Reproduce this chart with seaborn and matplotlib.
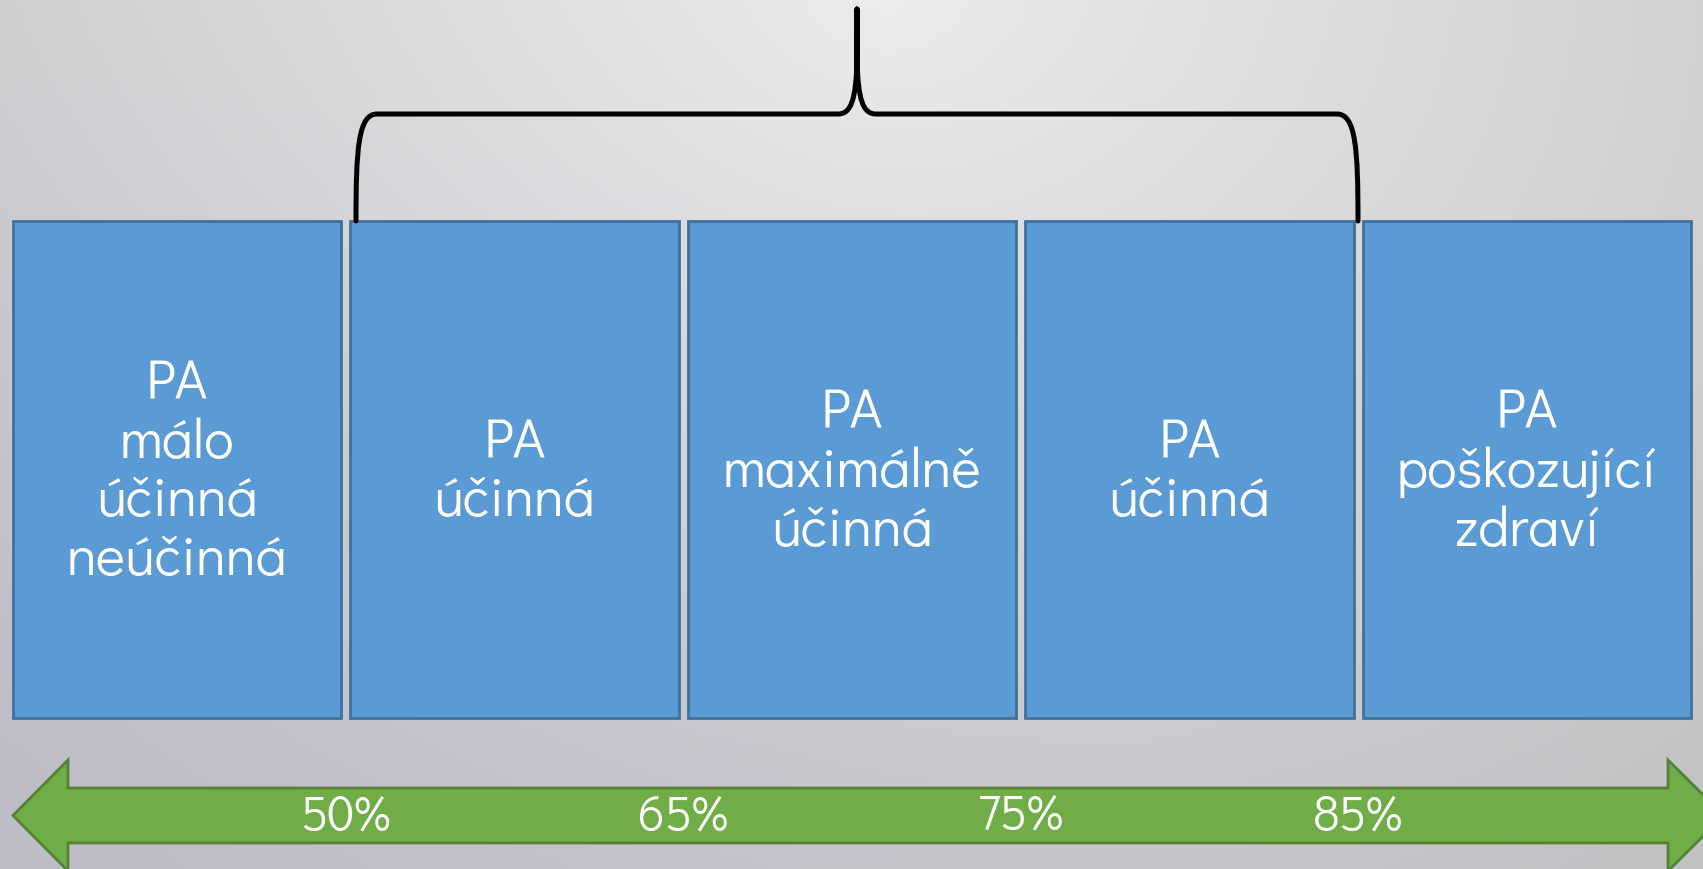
import numpy as np
import pandas as pd
import matplotlib.pyplot as plt
from matplotlib.path import Path
import matplotlib.patches as mpatches
import seaborn as sns

# zones of physical activity (PA) by intensity
zones = ["PA\nmálo\núčinná\nneúčinná",
         "PA\núčinná",
         "PA\nmaximálně\núčinná",
         "PA\núčinná",
         "PA\npoškozující\nzdraví"]
box_height = [497, 497, 497, 497, 497]
thresholds = ["50%", "65%", "75%", "85%"]

W, H = 1703, 869
step = 337.5          # px per category
cx0 = 177             # px centre of first box
base = 718            # px of box bottoms (from top)

df = pd.DataFrame({"zone": list(range(len(zones))), "h": box_height})

sns.set_theme(style="white")
plt.rcParams['font.family'] = ['Didact Gothic', 'Lato', 'DejaVu Sans']

fig = plt.figure(figsize=(W / 100, H / 100), dpi=100)
ax = fig.add_axes([0, 0, 1, 1])

def X(p):
    return (p - cx0) / step

def Y(p):
    return base - p

xlim = (X(0), X(W))
ylim = (Y(H), Y(0))

# background gradient
yy, xx = np.mgrid[0:1:300j, 0:1:600j]
d = np.sqrt(((xx - 0.52) / 0.75) ** 2 + (yy / 1.25) ** 2)
d = np.clip(d, 0, 1)
light = np.array([0.925, 0.925, 0.93])
dark = np.array([0.76, 0.76, 0.77])
bg = light * (1 - d[..., None]) + dark * d[..., None]
lav = np.clip((1 - xx) * yy * 1.4, 0, 1)[..., None]
bg = bg * (1 - 0.35 * lav) + np.array([0.72, 0.70, 0.79]) * 0.35 * lav
ax.imshow(bg, extent=[xlim[0], xlim[1], ylim[0], ylim[1]], aspect='auto', zorder=0)

# boxes
sns.barplot(data=df, x="zone", y="h", width=0.972, color="#5B9BD5",
            saturation=1, edgecolor="#41719C", linewidth=2, errorbar=None,
            ax=ax, zorder=2)

for i, z in enumerate(zones):
    ax.text(i, box_height[i] / 2 - 3, z, ha='center', va='center', color='white',
            fontsize=40, linespacing=1.17, zorder=3)

# double arrow at the bottom
s1, s2, h1, h2 = Y(788), Y(843), Y(760), Y(871)
yc = (s1 + s2) / 2
lt, lb, rb, rt = X(13), X(68), X(1668), X(1724)
pts = [(lt, yc), (lb, h1), (lb, s1), (rb, s1), (rb, h1), (rt, yc),
       (rb, h2), (rb, s2), (lb, s2), (lb, h2)]
ax.add_patch(mpatches.Polygon(pts, closed=True, facecolor="#70AD47",
                              edgecolor="#548235", linewidth=2, zorder=2))

for i, t in enumerate(thresholds):
    ax.text(i + 0.5, Y(818), t, ha='center', va='center', color='white',
            fontsize=35, zorder=3)

# curly brace over the middle three boxes
verts = [(356, 221), (356, 150), (358, 114), (377, 114),
         (838, 114),
         (851, 114), (856, 100), (857, 60),
         (857, 9),
         (857, 60),
         (858, 100), (863, 114), (876, 114),
         (1337, 114),
         (1356, 114), (1358, 150), (1358, 221)]
codes = [Path.MOVETO, Path.CURVE4, Path.CURVE4, Path.CURVE4,
         Path.LINETO,
         Path.CURVE4, Path.CURVE4, Path.CURVE4,
         Path.LINETO,
         Path.LINETO,
         Path.CURVE4, Path.CURVE4, Path.CURVE4,
         Path.LINETO,
         Path.CURVE4, Path.CURVE4, Path.CURVE4]
verts = [(X(a), Y(b)) for a, b in verts]
ax.add_patch(mpatches.PathPatch(Path(verts, codes), facecolor='none',
                                edgecolor='black', linewidth=3.6,
                                capstyle='round', joinstyle='round', zorder=4))

ax.set_xlim(*xlim)
ax.set_ylim(*ylim)
ax.axis('off')

fig.savefig("out.png", dpi=100)
